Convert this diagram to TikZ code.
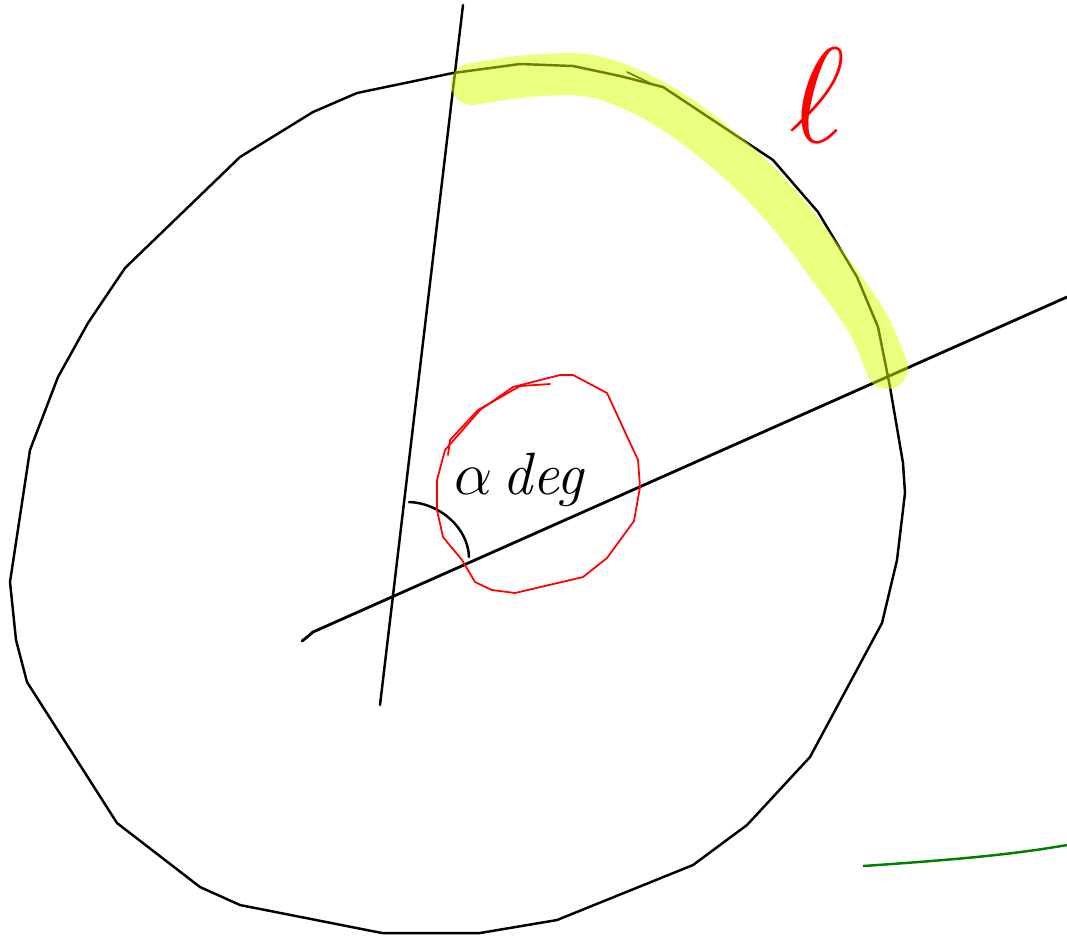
\documentclass[tikz,border=0pt]{standalone}
\usepackage{amsmath,amssymb}
\usepackage{xcolor}
\usepackage{tikz}
\usetikzlibrary{calc}
\definecolor{inkblack}{HTML}{000000}
\definecolor{inkred}{HTML}{FF0000}
\definecolor{inkgreen}{HTML}{008000}
\definecolor{marker}{HTML}{DCFF00}

\begin{document}
\begin{tikzpicture}[x=0.01cm, y=-0.01cm,
    pen/.style={inkblack, line width=0.7pt, line join=round, line cap=round},
    redpen/.style={inkred, line width=0.5pt, line join=round, line cap=round},
    highlight/.style={marker, opacity=0.5, line width=0.42cm, line cap=round, line join=round}]

\useasboundingbox (0,0) rectangle (1067,941);

% ---- Big circle (hand drawn) ----
\draw[pen] (453,73) -- (520,64) -- (573,66) -- (620,76) -- (663,87)
    -- (773,160) -- (818,212) -- (857,277) -- (878,327) -- (890,387)
    -- (903,463) -- (905,493) -- (897,560) -- (882,623) -- (810,757)
    -- (747,825) -- (693,865) -- (557,920) -- (480,933) -- (382,933)
    -- (240,905) -- (200,887) -- (117,823) -- (27,682) -- (16,640)
    -- (10,582) -- (30,450) -- (58,377) -- (88,323) -- (125,268)
    -- (240,157) -- (313,112) -- (357,93) -- cycle;
\draw[pen, line width=0.45pt] (627,72) -- (652,84);

% ---- Radii ----
\draw[pen] (463,5) -- (380,705);
\draw[pen, line width=0.8pt] (302,641) .. controls (306,638) .. (313,632) -- (1067,297);

% Angle mark
\draw[pen] (409,502) .. controls (440,503) and (468,528) .. (469,557);

% ---- Red circle round the angle label ----
\draw[redpen] (560,375) -- (573,375) -- (607,393) -- (638,460) -- (640,487)
    -- (634,521) -- (607,558) -- (583,577) -- (515,593) -- (492,590)
    -- (475,582) -- (462,560) -- (443,537) -- (437,510) -- (437,480)
    -- (445,450) -- (480,410) -- (513,387) -- cycle;
\draw[redpen] (448,455) -- (450,440) -- (478,410) -- (520,386) -- (550,384);

% Labels
\node[inkblack, anchor=base west, inner sep=0pt,
      font=\fontsize{17}{20}\selectfont] (angle) at (454,494) {$\alpha$\,\textit{deg}};
\node[inkred, inner sep=0pt,
      font=\fontsize{24.88}{28}\selectfont] (arclen) at (817,95) {\scalebox{1.55}{$\ell$}};

% ---- Highlighted arc ----
\draw[highlight] plot[smooth, tension=0.6] coordinates {
    (472,84) (540,75) (600,78) (667,108) (733,158)
    (783,208) (827,265) (867,322) (887,368)};

% ---- Stray green stroke ----
\draw[inkgreen, line width=0.7pt] (863,866) .. controls (950,860) and (1010,855) .. (1067,845);

\end{tikzpicture}
\end{document}
